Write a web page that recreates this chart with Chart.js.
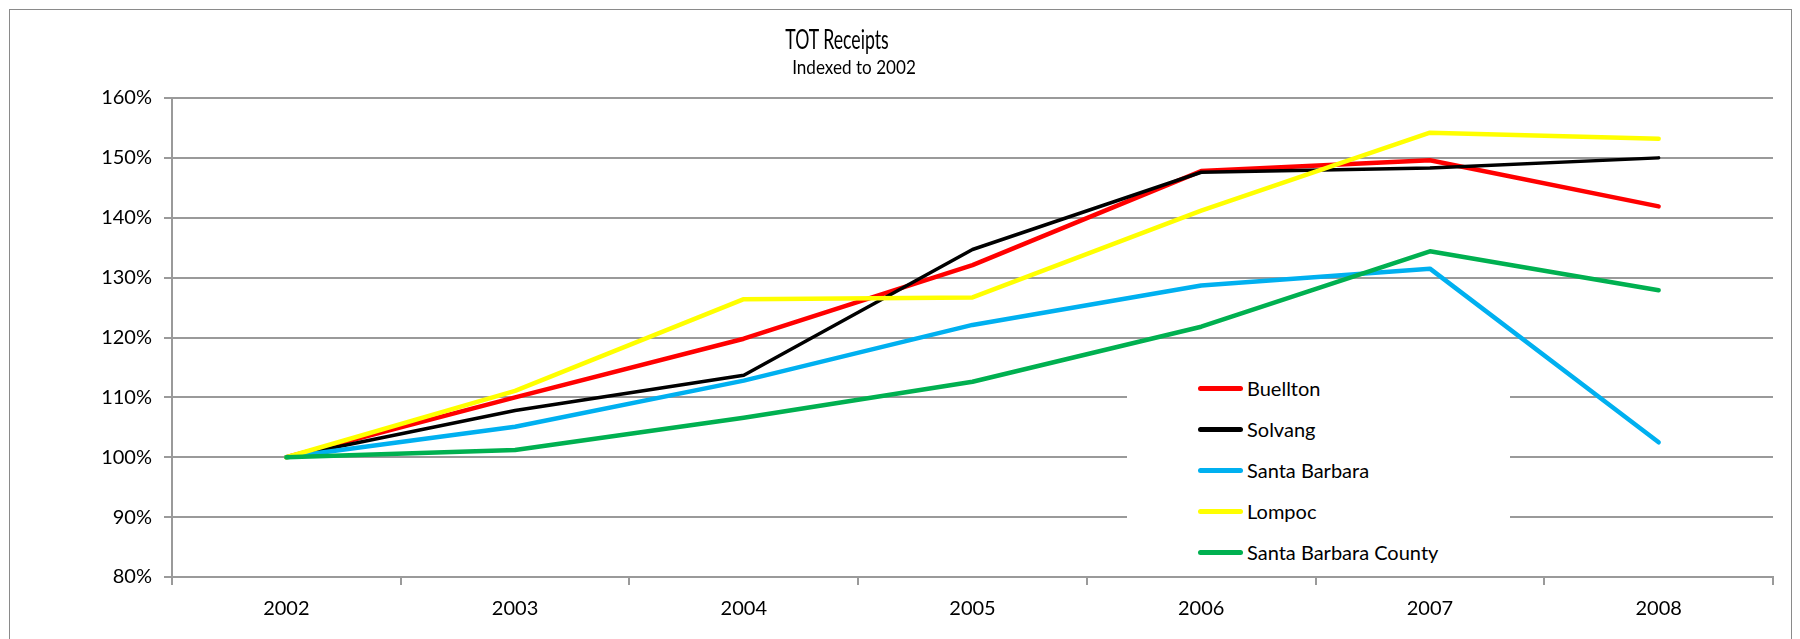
<!DOCTYPE html>
<html>
<head>
<meta charset="utf-8">
<script src="https://cdn.jsdelivr.net/npm/chart.js@4/dist/chart.umd.min.js"></script>
<style>
  html, body { margin: 0; padding: 0; background: #fff; overflow: hidden; }
  #wrap { position: relative; width: 1800px; height: 639px; }
  #frame { position: absolute; left: 9px; top: 9px; width: 1781px; height: 700px; border: 1px solid #8a8a8a; }
  #chart { position: absolute; left: 0; top: 0; }
  .ttl { position: absolute; text-align: center; font-family: Lato, sans-serif; color: #000; white-space: nowrap; transform-origin: center center; }
  #title { left: 0; width: 1674px; top: 24px; font-size: 26px; line-height: 30px; transform: scaleX(0.68); }
  #subtitle { left: 0; width: 1708px; top: 56px; font-size: 19px; line-height: 22px; transform: scaleX(0.9); }
  #legend { position: absolute; left: 1127px; top: 368px; width: 383px; height: 205px; background: #fff; font-family: Lato, sans-serif; font-size: 20px; color: #000; }
  .row { position: relative; height: 41px; }
  .swatch { position: absolute; left: 71px; top: 18px; width: 45px; height: 5px; border-radius: 3px; }
  .lbl { position: absolute; left: 120px; top: 0; line-height: 41px; white-space: nowrap; }
</style>
</head>
<body>
<div id="wrap">
  <div id="frame"></div>
  <canvas id="chart" width="1800" height="639"></canvas>
  <div class="ttl" id="title">TOT Receipts</div>
  <div class="ttl" id="subtitle">Indexed to 2002</div>
  <div id="legend"></div>
</div>
<script>
// categories and series (percent of 2002 level)
const years = ['2002', '2003', '2004', '2005', '2006', '2007', '2008'];
const buellton = [100, 110.0, 119.8, 132.1, 147.8, 149.6, 141.9];
const solvang = [100, 107.8, 113.7, 134.7, 147.6, 148.3, 150.0];
const santaBarbara = [100, 105.1, 112.8, 122.1, 128.7, 131.5, 102.5];
const lompoc = [100, 111.1, 126.4, 126.7, 141.2, 154.2, 153.2];
const sbCounty = [100, 101.2, 106.6, 112.6, 121.8, 134.4, 127.9];

const seriesNames = ['Buellton', 'Solvang', 'Santa Barbara', 'Lompoc', 'Santa Barbara County'];
const seriesValues = [buellton, solvang, santaBarbara, lompoc, sbCounty];
const seriesColors = ['#ff0000', '#000000', '#00b0f0', '#ffff00', '#00b050'];

// y axis range
const yMin = 80;
const yMax = 160;
const yStep = 10;

const gridColor = '#9a9a9a';
const tickFont = { family: 'Lato, sans-serif', size: 20 };

const datasets = seriesNames.map((name, i) => ({
    label: name,
    data: seriesValues[i],
    borderColor: seriesColors[i],
    backgroundColor: seriesColors[i],
    borderWidth: i === 1 ? 3.5 : 4.5,
    borderCapStyle: 'round',
    borderJoinStyle: 'round',
    pointRadius: 0,
    tension: 0,
    fill: false,
    // Excel draws later series on top
    order: seriesNames.length - i
}));

new Chart(document.getElementById('chart').getContext('2d'), {
    type: 'line',
    data: { labels: years, datasets: datasets },
    options: {
        responsive: false,
        devicePixelRatio: 1,
        animation: false,
        layout: { padding: { left: 20, right: 27, top: 98, bottom: 0 } },
        plugins: {
            legend: { display: false },
            title: { display: false },
            tooltip: { enabled: false }
        },
        scales: {
            x: {
                offset: true,
                grid: { offset: true, drawOnChartArea: false, drawTicks: true, tickLength: 8, color: gridColor, lineWidth: 2 },
                border: { display: true, color: gridColor, width: 2 },
                ticks: { font: tickFont, color: '#000', padding: 12, maxRotation: 0 },
                afterFit: (s) => { s.height = 62; }
            },
            y: {
                min: yMin,
                max: yMax,
                grid: { color: gridColor, lineWidth: 2, tickLength: 8 },
                border: { display: true, color: gridColor, width: 2 },
                ticks: {
                    stepSize: yStep,
                    font: tickFont,
                    color: '#000',
                    padding: 12,
                    callback: (v) => v + '%'
                },
                afterFit: (s) => { s.width = 152; }
            }
        }
    }
});

// legend built from the same series arrays
const legendEl = document.getElementById('legend');
seriesNames.forEach((name, i) => {
    const row = document.createElement('div');
    row.className = 'row';
    row.innerHTML = '<span class="swatch" style="background:' + seriesColors[i] + '"></span><span class="lbl">' + name + '</span>';
    legendEl.appendChild(row);
});
</script>
</body>
</html>
